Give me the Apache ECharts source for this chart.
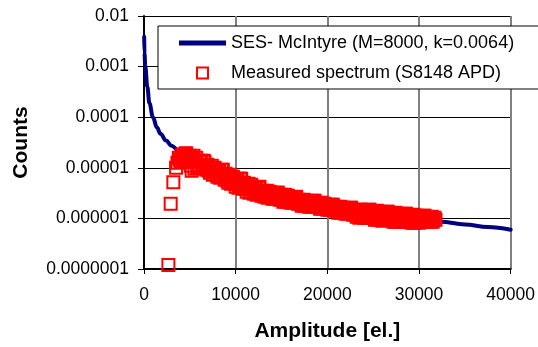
<!DOCTYPE html>
<html>
<head>
<meta charset="utf-8">
<script src="https://cdn.jsdelivr.net/npm/echarts@6/dist/echarts.min.js"></script>
<style>
  html, body { margin: 0; padding: 0; background: #fff; }
  #chart { width: 538px; height: 347px; }
</style>
</head>
<body>
<div id="chart"></div>
<script>
// Single-electron spectrum model (McIntyre, M=8000, k=0.0064)
const sesAmp = [20, 50, 140, 360, 590, 980, 1400, 1800, 2400, 3000, 3700, 5000, 6000,
  8000, 10000, 12000, 15000, 18000, 21000, 24000, 27000, 30000, 32360, 35000, 37500, 40000];
const sesCounts = [3.9e-3, 1.84e-3, 1.0e-3, 4.0e-4, 1.89e-4, 1.0e-4, 6.3e-5, 4.7e-5, 3.45e-5,
  2.74e-5, 2.26e-5, 1.58e-5, 1.2e-5, 7.97e-6, 5.55e-6, 4.04e-6, 2.81e-6, 2.09e-6, 1.63e-6,
  1.32e-6, 1.10e-6, 9.64e-7, 8.6e-7, 7.6e-7, 6.76e-7, 5.98e-7];

// Measured amplitude spectrum of the S8148 APD (100 el. bins above threshold)
const measuredAmp = [2660, 2910, 3200, 3500, 3650,
  3800, 3900, 4000, 4100, 4200, 4300, 4400, 4500, 4600, 4700,
  4800, 4900, 5000, 5100, 5200, 5300, 5400, 5500, 5600, 5700,
  5800, 5900, 6000, 6100, 6200, 6300, 6400, 6500, 6600, 6700,
  6800, 6900, 7000, 7100, 7200, 7300, 7400, 7500, 7600, 7700,
  7800, 7900, 8000, 8100, 8200, 8300, 8400, 8500, 8600, 8700,
  8800, 8900, 9000, 9100, 9200, 9300, 9400, 9500, 9600, 9700,
  9800, 9900, 10000, 10100, 10200, 10300, 10400, 10500, 10600, 10700,
  10800, 10900, 11000, 11100, 11200, 11300, 11400, 11500, 11600, 11700,
  11800, 11900, 12000, 12100, 12200, 12300, 12400, 12500, 12600, 12700,
  12800, 12900, 13000, 13100, 13200, 13300, 13400, 13500, 13600, 13700,
  13800, 13900, 14000, 14100, 14200, 14300, 14400, 14500, 14600, 14700,
  14800, 14900, 15000, 15100, 15200, 15300, 15400, 15500, 15600, 15700,
  15800, 15900, 16000, 16100, 16200, 16300, 16400, 16500, 16600, 16700,
  16800, 16900, 17000, 17100, 17200, 17300, 17400, 17500, 17600, 17700,
  17800, 17900, 18000, 18100, 18200, 18300, 18400, 18500, 18600, 18700,
  18800, 18900, 19000, 19100, 19200, 19300, 19400, 19500, 19600, 19700,
  19800, 19900, 20000, 20100, 20200, 20300, 20400, 20500, 20600, 20700,
  20800, 20900, 21000, 21100, 21200, 21300, 21400, 21500, 21600, 21700,
  21800, 21900, 22000, 22100, 22200, 22300, 22400, 22500, 22600, 22700,
  22800, 22900, 23000, 23100, 23200, 23300, 23400, 23500, 23600, 23700,
  23800, 23900, 24000, 24100, 24200, 24300, 24400, 24500, 24600, 24700,
  24800, 24900, 25000, 25100, 25200, 25300, 25400, 25500, 25600, 25700,
  25800, 25900, 26000, 26100, 26200, 26300, 26400, 26500, 26600, 26700,
  26800, 26900, 27000, 27100, 27200, 27300, 27400, 27500, 27600, 27700,
  27800, 27900, 28000, 28100, 28200, 28300, 28400, 28500, 28600, 28700,
  28800, 28900, 29000, 29100, 29200, 29300, 29400, 29500, 29600, 29700,
  29800, 29900, 30000, 30100, 30200, 30300, 30400, 30500, 30600, 30700,
  30800, 30900, 31000, 31100, 31200, 31300, 31400, 31500, 31600, 31700,
  31800];
const measuredCounts = [1.2e-7, 1.95e-6, 5.2e-6, 1.0e-5, 1.26e-5,
  1.58e-5, 1.44e-5, 1.31e-5, 1.65e-5, 1.81e-5, 1.31e-5, 1.44e-5, 1.89e-5, 1.93e-5, 1.58e-5,
  1.38e-5, 1.73e-5, 1.65e-5, 1.10e-5, 8.73e-6, 1.51e-5, 1.73e-5, 9.56e-6, 1.31e-5, 1.58e-5,
  1.0e-5, 1.15e-5, 1.05e-5, 1.31e-5, 1.38e-5, 1.00e-5, 1.05e-5, 1.38e-5, 1.31e-5, 1.05e-5,
  9.14e-6, 1.15e-5, 1.05e-5, 8.73e-6, 7.97e-6, 9.56e-6, 1.10e-5, 7.28e-6, 8.35e-6, 1.00e-5,
  8.35e-6, 7.28e-6, 6.65e-6, 8.35e-6, 8.73e-6, 6.35e-6, 6.65e-6, 9.14e-6, 9.14e-6, 6.96e-6,
  5.80e-6, 7.62e-6, 6.96e-6, 5.54e-6, 5.06e-6, 6.35e-6, 7.28e-6, 4.83e-6, 5.30e-6, 6.65e-6,
  5.54e-6, 4.83e-6, 4.22e-6, 5.54e-6, 6.07e-6, 4.03e-6, 4.41e-6, 6.07e-6, 6.07e-6, 4.62e-6,
  3.85e-6, 5.06e-6, 4.62e-6, 3.85e-6, 3.36e-6, 4.22e-6, 4.83e-6, 3.21e-6, 3.68e-6, 4.62e-6,
  3.85e-6, 3.36e-6, 3.07e-6, 3.85e-6, 4.03e-6, 2.93e-6, 3.21e-6, 4.03e-6, 4.22e-6, 3.36e-6,
  2.80e-6, 3.52e-6, 3.36e-6, 2.80e-6, 2.68e-6, 3.21e-6, 3.52e-6, 2.56e-6, 2.93e-6, 3.36e-6,
  2.93e-6, 2.68e-6, 2.45e-6, 3.07e-6, 3.21e-6, 2.45e-6, 2.56e-6, 3.21e-6, 3.21e-6, 2.68e-6,
  2.34e-6, 2.93e-6, 2.68e-6, 2.34e-6, 2.13e-6, 2.56e-6, 2.93e-6, 2.13e-6, 2.34e-6, 2.80e-6,
  2.45e-6, 2.23e-6, 2.04e-6, 2.45e-6, 2.56e-6, 2.04e-6, 2.13e-6, 2.56e-6, 2.68e-6, 2.13e-6,
  1.95e-6, 2.34e-6, 2.23e-6, 1.95e-6, 1.78e-6, 2.13e-6, 2.34e-6, 1.78e-6, 1.95e-6, 2.23e-6,
  2.04e-6, 1.86e-6, 1.70e-6, 2.04e-6, 2.13e-6, 1.70e-6, 1.86e-6, 2.23e-6, 2.23e-6, 1.86e-6,
  1.70e-6, 2.04e-6, 1.95e-6, 1.70e-6, 1.55e-6, 1.86e-6, 2.04e-6, 1.55e-6, 1.70e-6, 1.95e-6,
  1.78e-6, 1.63e-6, 1.48e-6, 1.78e-6, 1.86e-6, 1.48e-6, 1.55e-6, 1.86e-6, 1.86e-6, 1.55e-6,
  1.42e-6, 1.70e-6, 1.63e-6, 1.42e-6, 1.29e-6, 1.55e-6, 1.70e-6, 1.29e-6, 1.42e-6, 1.63e-6,
  1.48e-6, 1.35e-6, 1.24e-6, 1.48e-6, 1.55e-6, 1.24e-6, 1.29e-6, 1.63e-6, 1.63e-6, 1.35e-6,
  1.18e-6, 1.48e-6, 1.35e-6, 1.18e-6, 1.08e-6, 1.35e-6, 1.48e-6, 1.03e-6, 1.18e-6, 1.48e-6,
  1.24e-6, 1.13e-6, 1.03e-6, 1.29e-6, 1.42e-6, 1.03e-6, 1.13e-6, 1.48e-6, 1.48e-6, 1.18e-6,
  1.03e-6, 1.35e-6, 1.24e-6, 1.03e-6, 9.41e-7, 1.18e-6, 1.42e-6, 9.41e-7, 1.08e-6, 1.35e-6,
  1.13e-6, 1.03e-6, 9.0e-7, 1.18e-6, 1.29e-6, 9.41e-7, 1.03e-6, 1.35e-6, 1.35e-6, 1.08e-6,
  9.41e-7, 1.24e-6, 1.13e-6, 9.41e-7, 8.59e-7, 1.08e-6, 1.29e-6, 8.59e-7, 9.86e-7, 1.24e-6,
  1.03e-6, 9.41e-7, 8.59e-7, 1.08e-6, 1.18e-6, 8.59e-7, 9.41e-7, 1.24e-6, 1.24e-6, 9.86e-7,
  8.59e-7, 1.13e-6, 1.03e-6, 9.0e-7, 8.21e-7, 1.03e-6, 1.18e-6, 8.21e-7, 9.41e-7, 1.13e-6,
  9.86e-7, 9.0e-7, 8.21e-7, 1.03e-6, 1.08e-6, 8.59e-7, 9.0e-7, 1.13e-6, 1.13e-6, 9.41e-7,
  8.59e-7, 1.03e-6, 9.86e-7, 9.0e-7, 8.59e-7, 9.86e-7, 1.08e-6, 8.59e-7, 9.41e-7, 1.03e-6,
  9.41e-7];

const seriesNames = ['SES- McIntyre (M=8000, k=0.0064)', 'Measured spectrum (S8148 APD)'];
const xTickValues = [0, 10000, 20000, 30000, 40000];
const yTickLabels = ['0.0000001', '0.000001', '0.00001', '0.0001', '0.001', '0.01'];

const FONT = "'Liberation Sans', Arial, sans-serif";
const chart = echarts.init(document.getElementById('chart'), null, { renderer: 'canvas' });

const zip = (xs, ys) => xs.map((x, i) => [x, ys[i]]);

chart.setOption({
  animation: false,
  backgroundColor: '#ffffff',
  textStyle: { fontFamily: FONT },
  grid: { left: 144, right: 27, top: 16, bottom: 78, containLabel: false },
  legend: {
    orient: 'vertical',
    left: 158,
    top: 26,
    padding: [8, 30, 7, 21],
    itemGap: 12,
    itemWidth: 47,
    itemHeight: 11,
    symbolKeepAspect: true,
    backgroundColor: '#ffffff',
    borderColor: '#000000',
    borderWidth: 1,
    borderRadius: 0,
    textStyle: { fontFamily: FONT, fontSize: 18, color: '#000000' },
    data: [
      { name: seriesNames[0], icon: 'path://M0,0h94v10h-94z',
        itemStyle: { color: '#000080', borderWidth: 0 } },
      { name: seriesNames[1], icon: 'path://M0,0h10v10h-10z',
        itemStyle: { color: 'rgba(0,0,0,0)', borderColor: '#ff0000', borderWidth: 2 } }
    ]
  },
  xAxis: {
    type: 'value',
    min: xTickValues[0],
    max: xTickValues[xTickValues.length - 1],
    interval: 10000,
    name: 'Amplitude [el.]',
    nameLocation: 'middle',
    nameGap: 52,
    nameTextStyle: { fontFamily: FONT, fontSize: 21, fontWeight: 'bold', color: '#000' },
    axisLine: { show: true, onZero: false, lineStyle: { color: '#000', width: 2 } },
    axisTick: { show: true, inside: false, length: 5, lineStyle: { color: '#000', width: 1 } },
    axisLabel: { fontFamily: FONT, fontSize: 17.5, color: '#000', margin: 17,
      formatter: (v) => String(v) },
    splitLine: { show: true, lineStyle: { color: '#808080', width: 2 } }
  },
  yAxis: {
    type: 'log',
    logBase: 10,
    min: 1e-7,
    max: 0.01,
    name: 'Counts',
    nameLocation: 'middle',
    nameRotate: 90,
    nameGap: 112,
    nameTextStyle: { fontFamily: FONT, fontSize: 21, fontWeight: 'bold', color: '#000' },
    axisLine: { show: true, onZero: false, lineStyle: { color: '#000', width: 2 } },
    axisTick: { show: true, inside: false, length: 6, lineStyle: { color: '#000', width: 1 } },
    axisLabel: {
      fontFamily: FONT, fontSize: 17.5, color: '#000', margin: 15,
      formatter: (v) => yTickLabels[Math.round(Math.log10(v)) + 7]
    },
    splitLine: {
      show: true,
      lineStyle: { color: ['#000', '#000', '#000', '#000', '#000', '#808080'], width: 1 }
    }
  },
  series: [
    {
      name: seriesNames[0],
      type: 'line',
      data: zip(sesAmp, sesCounts),
      smooth: 0.4,
      smoothMonotone: 'x',
      symbol: 'none',
      lineStyle: { color: '#000080', width: 4, cap: 'round' },
      itemStyle: { color: '#000080' },
      z: 2
    },
    {
      name: seriesNames[1],
      type: 'scatter',
      data: zip(measuredAmp, measuredCounts),
      symbol: 'rect',
      symbolSize: 12,
      large: false,
      itemStyle: { color: 'rgba(0,0,0,0)', borderColor: '#ff0000', borderWidth: 2, opacity: 1 },
      emphasis: { disabled: true },
      z: 3
    }
  ]
});
</script>
</body>
</html>
